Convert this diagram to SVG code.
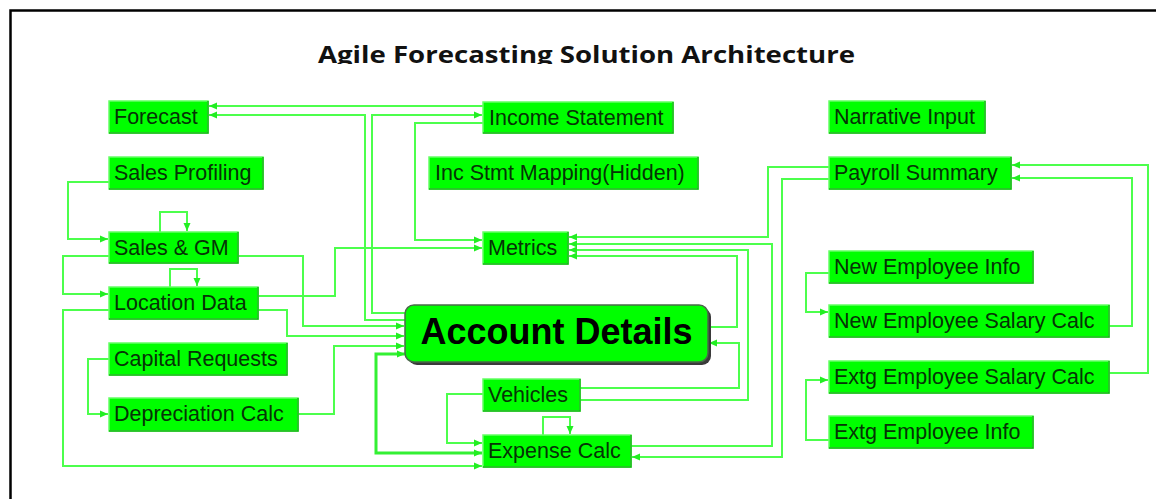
<svg xmlns="http://www.w3.org/2000/svg" width="1156" height="499" viewBox="0 0 1156 499">
  <style>
    .box { fill: #00ff00; stroke: #66ff66; stroke-width: 1.5; }
    .edge { fill: none; stroke: #17b517; stroke-width: 1.5; }
    .lbl { font-family: "Liberation Sans", Arial, sans-serif; font-size: 21.5px; fill: #063306; }
    .big { font-family: "Liberation Sans", Arial, sans-serif; font-size: 36px; font-weight: bold; fill: #000; }
    .title { font-family: "Open Sans", "Liberation Sans", sans-serif; font-size: 24px; font-weight: bold; fill: #111; }
    .wire { fill: none; stroke: #4cff4c; stroke-width: 2; stroke-linejoin: miter; }
    .wire.arr { marker-end: url(#tip); }
    .wire.thick { stroke-width: 3; stroke: #33f033; marker-start: url(#tipS); marker-end: url(#tip); }
  </style>
  <defs>
    <marker id="tip" markerUnits="userSpaceOnUse" markerWidth="9" markerHeight="8" refX="8" refY="4" orient="auto">
      <path d="M0,0.5 L8,4 L0,7.5 z" fill="#22ee22"/>
    </marker>
    <marker id="tipS" markerUnits="userSpaceOnUse" markerWidth="9" markerHeight="8" refX="0" refY="4" orient="auto">
      <path d="M8,0.5 L0,4 L8,7.5 z" fill="#22ee22"/>
    </marker>
    <clipPath id="titleClip">
      <rect x="0" y="0" width="1156" height="64"/>
    </clipPath>
  </defs>

  <rect x="0" y="0" width="1156" height="499" fill="#ffffff"/>
  <!-- outer frame -->
  <path d="M10.5,499 V10.5 H1156" fill="none" stroke="#000" stroke-width="2.5"/>

  <!-- heading, bottom edge cut off -->
  <g clip-path="url(#titleClip)">
    <text class="title" x="318" y="63" textLength="537" lengthAdjust="spacingAndGlyphs">Agile Forecasting Solution Architecture</text>
  </g>

  <!-- connectors -->
  <g id="connectors">
    <path class="wire arr" d="M483,106 H209"/>
    <path class="wire arr" d="M405,320 H365 V115 H209"/>
    <path class="wire arr" d="M405,313 H372 V115 H482"/>
    <path class="wire arr" d="M483,123 H415 V240 H482"/>
    <path class="wire arr" d="M258,296 H335 V248 H482"/>
    <path class="wire arr" d="M238,256 H303 V326 H404"/>
    <path class="wire arr" d="M258,310 H287 V336 H404"/>
    <path class="wire arr" d="M298,414 H334 V346 H404"/>
    <path class="wire thick" d="M405,354 H376 V453 H482"/>
    <path class="wire arr" d="M109,310 H63 V466 H482"/>
    <path class="wire arr" d="M109,256 H63 V294 H108"/>
    <path class="wire arr" d="M109,182 H68 V239 H108"/>
    <path class="wire arr" d="M160,232 V212 H187 V231"/>
    <path class="wire arr" d="M170,287 V269 H197 V286"/>
    <path class="wire arr" d="M109,359 H88 V414 H108"/>
    <path class="wire arr" d="M483,394 H447 V443 H482"/>
    <path class="wire arr" d="M543,435 V417 H570 V434"/>
    <path class="wire arr" d="M829,167 H768 V237 H569"/>
    <path class="wire arr" d="M631,446 H772 V244 H569"/>
    <path class="wire arr" d="M829,179 H782 V457 H632"/>
    <path class="wire arr" d="M580,400 H748 V250 H569"/>
    <path class="wire arr" d="M708,327 H737 V256 H569"/>
    <path class="wire arr" d="M580,388 H739 V343 H709"/>
    <path class="wire arr" d="M829,273 H806 V312 H828"/>
    <path class="wire arr" d="M829,440 H806 V380 H828"/>
    <path class="wire arr" d="M1109,326 H1132 V178 H1012"/>
    <path class="wire arr" d="M1109,373 H1148 V165 H1012"/>
  </g>

  <!-- sheets -->
  <g id="forecast">
    <rect class="box" x="109" y="101" width="99" height="32"/>
    <path class="edge" d="M109,133 H208 V101"/>
    <text class="lbl" x="114" y="124">Forecast</text>
  </g>
  <g id="sales-profiling">
    <rect class="box" x="109" y="157" width="154" height="32"/>
    <path class="edge" d="M109,189 H263 V157"/>
    <text class="lbl" x="114" y="180">Sales Profiling</text>
  </g>
  <g id="sales-gm">
    <rect class="box" x="109" y="232" width="129" height="31"/>
    <path class="edge" d="M109,263 H238 V232"/>
    <text class="lbl" x="114" y="255">Sales &amp; GM</text>
  </g>
  <g id="location-data">
    <rect class="box" x="109" y="287" width="149" height="32"/>
    <path class="edge" d="M109,319 H258 V287"/>
    <text class="lbl" x="114" y="310">Location Data</text>
  </g>
  <g id="capital-requests">
    <rect class="box" x="109" y="343" width="178" height="32"/>
    <path class="edge" d="M109,375 H287 V343"/>
    <text class="lbl" x="114" y="366">Capital Requests</text>
  </g>
  <g id="depreciation-calc">
    <rect class="box" x="109" y="398" width="189" height="33"/>
    <path class="edge" d="M109,431 H298 V398"/>
    <text class="lbl" x="114" y="421">Depreciation Calc</text>
  </g>
  <g id="income-statement">
    <rect class="box" x="483" y="102" width="190" height="31"/>
    <path class="edge" d="M483,133 H673 V102"/>
    <text class="lbl" x="489" y="125">Income Statement</text>
  </g>
  <g id="inc-stmt-mapping">
    <rect class="box" x="429" y="157" width="269" height="32"/>
    <path class="edge" d="M429,189 H698 V157"/>
    <text class="lbl" x="435" y="180">Inc Stmt Mapping(Hidden)</text>
  </g>
  <g id="metrics">
    <rect class="box" x="483" y="232" width="85" height="32"/>
    <path class="edge" d="M483,264 H568 V232"/>
    <text class="lbl" x="488" y="255">Metrics</text>
  </g>
  <g id="account-details">
    <rect x="408" y="308" width="303" height="57" rx="9" fill="#3a3a3a"/>
    <rect x="405" y="305" width="303" height="57" rx="9" fill="#00ff00" stroke="#4a6a4a" stroke-width="1.5"/>
    <text class="big" x="556.5" y="344" text-anchor="middle">Account Details</text>
  </g>
  <g id="vehicles">
    <rect class="box" x="483" y="379" width="97" height="32"/>
    <path class="edge" d="M483,411 H580 V379"/>
    <text class="lbl" x="488" y="402">Vehicles</text>
  </g>
  <g id="expense-calc">
    <rect class="box" x="483" y="435" width="148" height="32"/>
    <path class="edge" d="M483,467 H631 V435"/>
    <text class="lbl" x="488" y="458">Expense Calc</text>
  </g>
  <g id="narrative-input">
    <rect class="box" x="829" y="101" width="156" height="32"/>
    <path class="edge" d="M829,133 H985 V101"/>
    <text class="lbl" x="834" y="124">Narrative Input</text>
  </g>
  <g id="payroll-summary">
    <rect class="box" x="829" y="157" width="182" height="32"/>
    <path class="edge" d="M829,189 H1011 V157"/>
    <text class="lbl" x="834" y="180">Payroll Summary</text>
  </g>
  <g id="new-employee-info">
    <rect class="box" x="829" y="251" width="204" height="32"/>
    <path class="edge" d="M829,283 H1033 V251"/>
    <text class="lbl" x="834" y="274">New Employee Info</text>
  </g>
  <g id="new-employee-salary-calc">
    <rect class="box" x="829" y="305" width="280" height="32"/>
    <path class="edge" d="M829,337 H1109 V305"/>
    <text class="lbl" x="834" y="328">New Employee Salary Calc</text>
  </g>
  <g id="extg-employee-salary-calc">
    <rect class="box" x="829" y="361" width="280" height="32"/>
    <path class="edge" d="M829,393 H1109 V361"/>
    <text class="lbl" x="834" y="384">Extg Employee Salary Calc</text>
  </g>
  <g id="extg-employee-info">
    <rect class="box" x="829" y="416" width="204" height="32"/>
    <path class="edge" d="M829,448 H1033 V416"/>
    <text class="lbl" x="834" y="439">Extg Employee Info</text>
  </g>
</svg>
